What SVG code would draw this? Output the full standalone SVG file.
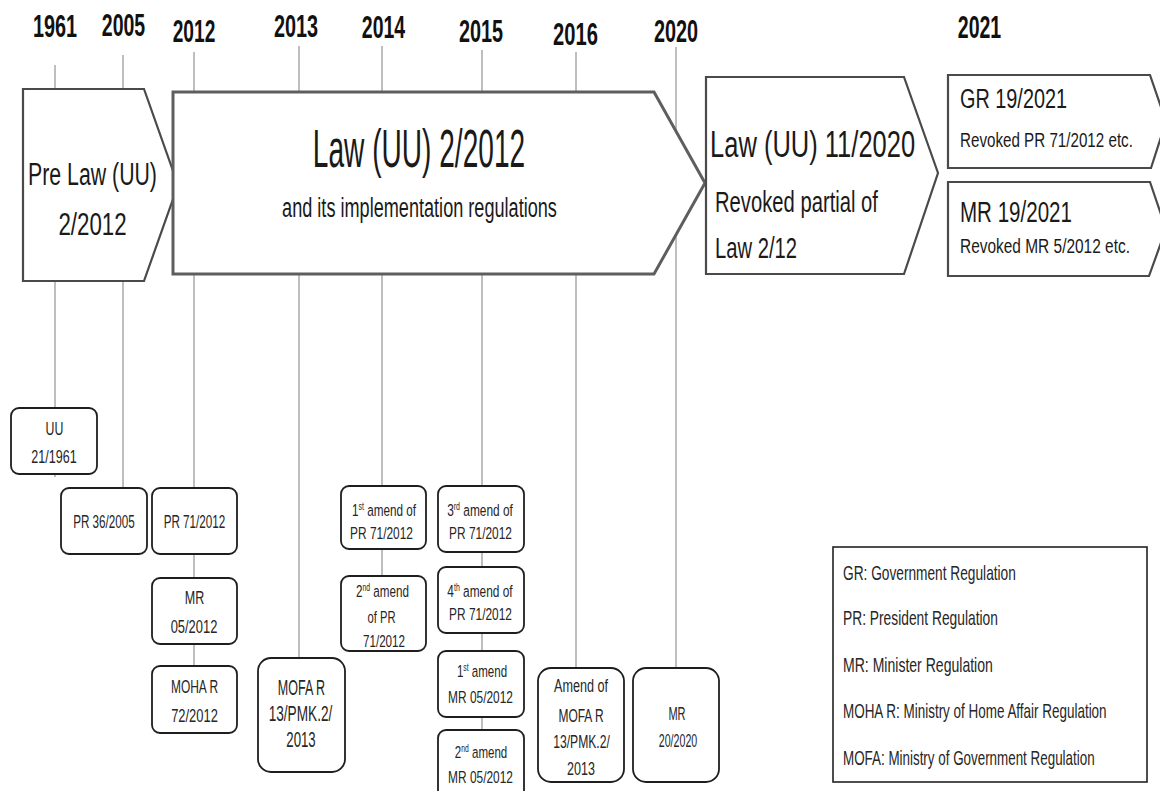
<svg xmlns="http://www.w3.org/2000/svg" width="1160" height="791" viewBox="0 0 1160 791">
  <style>
    text { font-family: "Liberation Sans", Arial, sans-serif; fill: #1a1a1a; }
    .year { font-weight: bold; font-size: 32px; text-anchor: middle; fill: #111; }
    .tick { stroke: #a8a8a8; stroke-width: 1.5; fill: none; }
    .box { fill: #fff; stroke: #1e1e1e; stroke-width: 1.8; }
    .big { fill: #fff; stroke: #4a4a4a; stroke-width: 2.2; }
    .main { fill: #fff; stroke: #5e5e5e; stroke-width: 3; }
    .mid { text-anchor: middle; }
    .lbl { font-size: 19px; text-anchor: middle; fill: #262626; }
    .sm { font-size: 17px; text-anchor: middle; fill: #262626; }
    .md { font-size: 22px; text-anchor: middle; fill: #262626; }
    .leg { font-size: 20px; fill: #262626; }
  </style>

  <rect width="1160" height="791" fill="#fff"/>

  <!-- year headings (narrowed with a horizontal scale) -->
  <g id="years">
    <text class="year" transform="translate(55,37) scale(0.62,1)">1961</text>
    <text class="year" transform="translate(123.5,36) scale(0.61,1)">2005</text>
    <text class="year" transform="translate(194,42) scale(0.6,1)">2012</text>
    <text class="year" transform="translate(296,37) scale(0.62,1)">2013</text>
    <text class="year" transform="translate(383.5,38) scale(0.61,1)">2014</text>
    <text class="year" transform="translate(481,42) scale(0.62,1)">2015</text>
    <text class="year" transform="translate(575.5,45) scale(0.63,1)">2016</text>
    <text class="year" transform="translate(676,42) scale(0.62,1)">2020</text>
    <text class="year" transform="translate(979.5,38) scale(0.61,1)">2021</text>
  </g>

  <!-- vertical year lines, drawn behind the white-filled shapes -->
  <g id="connectors">
    <line class="tick" x1="55" y1="65" x2="55" y2="477"/>
    <line class="tick" x1="123" y1="55" x2="123" y2="488"/>
    <line class="tick" x1="194" y1="52" x2="194" y2="666"/>
    <line class="tick" x1="299" y1="46" x2="299" y2="658"/>
    <line class="tick" x1="382" y1="46" x2="382" y2="576"/>
    <line class="tick" x1="482" y1="50" x2="482" y2="730"/>
    <line class="tick" x1="576" y1="52" x2="576" y2="668"/>
    <line class="tick" x1="676" y1="47" x2="676" y2="668"/>
  </g>

  <!-- period chevrons -->
  <g id="pre-law">
    <polygon class="big" points="23,89 144,89 178,185 144,281 23,281"/>
    <text class="mid" font-size="31" transform="translate(92.5,185) scale(0.687,1)">Pre Law (UU)</text>
    <text class="mid" font-size="31" transform="translate(92.5,235) scale(0.72,1)">2/2012</text>
  </g>

  <g id="law-2-2012">
    <polygon class="main" points="173,92 654,92 705,183 654,274 173,274"/>
    <text class="mid" font-size="53" transform="translate(419,167) scale(0.53,1)">Law (UU) 2/2012</text>
    <text class="mid" font-size="27" transform="translate(419.5,217) scale(0.671,1)">and its implementation regulations</text>
  </g>

  <g id="law-11-2020">
    <polygon class="big" points="706,77 904,77 938,173 904,274 706,274"/>
    <text font-size="37" transform="translate(710,157) scale(0.69,1)">Law (UU) 11/2020</text>
    <text font-size="30" transform="translate(715,212) scale(0.674,1)">Revoked partial of</text>
    <text font-size="29" transform="translate(715,258) scale(0.697,1)">Law 2/12</text>
  </g>

  <g id="gr-19-2021">
    <polygon class="big" points="948,75 1150,75 1166,121.5 1151,168 948,168" stroke="#2a2a2a"/>
    <text font-size="28" transform="translate(960,108) scale(0.709,1)">GR 19/2021</text>
    <text font-size="21" transform="translate(960,147) scale(0.723,1)">Revoked PR 71/2012 etc.</text>
  </g>

  <g id="mr-19-2021">
    <polygon class="big" points="948,182 1150,182 1166,229 1149,276 948,276" stroke="#2a2a2a"/>
    <text font-size="29" transform="translate(960,222) scale(0.709,1)">MR 19/2021</text>
    <text font-size="21" transform="translate(960,253) scale(0.736,1)">Revoked MR 5/2012 etc.</text>
  </g>

  <!-- regulation boxes -->
  <g id="uu-21-1961">
    <rect class="box" x="11" y="408" width="86" height="66" rx="8"/>
    <text class="lbl" transform="translate(54.5,435) scale(0.65,1)">UU</text>
    <text class="lbl" transform="translate(54,463) scale(0.66,1)">21/1961</text>
  </g>

  <g id="pr-36-2005">
    <rect class="box" x="61" y="488" width="86" height="66" rx="8"/>
    <text class="lbl" font-size="20" transform="translate(104,528) scale(0.615,1)">PR 36/2005</text>
  </g>

  <g id="pr-71-2012">
    <rect class="box" x="152" y="488" width="85" height="66" rx="8"/>
    <text class="lbl" font-size="20" transform="translate(194.5,528) scale(0.615,1)">PR 71/2012</text>
  </g>

  <g id="mr-05-2012">
    <rect class="box" x="152" y="578" width="85" height="66" rx="8"/>
    <text class="lbl" transform="translate(194.5,604) scale(0.66,1)">MR</text>
    <text class="lbl" transform="translate(194,633) scale(0.68,1)">05/2012</text>
  </g>

  <g id="moha-r-72-2012">
    <rect class="box" x="152" y="666" width="85" height="67" rx="8"/>
    <text class="lbl" transform="translate(194.5,693) scale(0.63,1)">MOHA R</text>
    <text class="lbl" transform="translate(194.5,722) scale(0.68,1)">72/2012</text>
  </g>

  <g id="mofa-r-2013">
    <rect class="box" x="258" y="658" width="87" height="114" rx="13"/>
    <text class="md" transform="translate(301.5,695) scale(0.57,1)">MOFA R</text>
    <text class="md" transform="translate(300.5,721) scale(0.62,1)">13/PMK.2/</text>
    <text class="md" transform="translate(301,747) scale(0.6,1)">2013</text>
  </g>

  <g id="amend1-pr-71">
    <rect class="box" x="341" y="486" width="85" height="63" rx="8"/>
    <text class="sm" transform="translate(384,516) scale(0.69,1)">1<tspan font-size="10" dy="-6">st</tspan><tspan dy="6"> amend of</tspan></text>
    <text class="sm" transform="translate(381.5,539) scale(0.7,1)">PR 71/2012</text>
  </g>

  <g id="amend2-pr-71">
    <rect class="box" x="341" y="576" width="85" height="75" rx="8"/>
    <text class="sm" transform="translate(382.5,597) scale(0.686,1)">2<tspan font-size="10" dy="-6">nd</tspan><tspan dy="6"> amend</tspan></text>
    <text class="sm" transform="translate(381.5,623) scale(0.66,1)">of PR</text>
    <text class="sm" transform="translate(384,647) scale(0.684,1)">71/2012</text>
  </g>

  <g id="amend3-pr-71">
    <rect class="box" x="438" y="486" width="86" height="66" rx="8"/>
    <text class="sm" transform="translate(480,516) scale(0.7,1)">3<tspan font-size="10" dy="-6">rd</tspan><tspan dy="6"> amend of</tspan></text>
    <text class="sm" transform="translate(480.5,539) scale(0.7,1)">PR 71/2012</text>
  </g>

  <g id="amend4-pr-71">
    <rect class="box" x="438" y="567" width="86" height="66" rx="8"/>
    <text class="sm" transform="translate(480,597) scale(0.7,1)">4<tspan font-size="10" dy="-6">th</tspan><tspan dy="6"> amend of</tspan></text>
    <text class="sm" transform="translate(480.5,620) scale(0.7,1)">PR 71/2012</text>
  </g>

  <g id="amend1-mr-05">
    <rect class="box" x="438" y="651" width="86" height="66" rx="8"/>
    <text class="sm" transform="translate(482,677) scale(0.68,1)">1<tspan font-size="10" dy="-6">st</tspan><tspan dy="6"> amend</tspan></text>
    <text class="sm" transform="translate(480.5,703) scale(0.7,1)">MR 05/2012</text>
  </g>

  <g id="amend2-mr-05">
    <rect class="box" x="438" y="730" width="86" height="72" rx="8"/>
    <text class="sm" transform="translate(481,758) scale(0.68,1)">2<tspan font-size="10" dy="-6">nd</tspan><tspan dy="6"> amend</tspan></text>
    <text class="sm" transform="translate(480.5,783) scale(0.7,1)">MR 05/2012</text>
  </g>

  <g id="amend-mofa-r">
    <rect class="box" x="538" y="668" width="86" height="114" rx="13"/>
    <text class="lbl" transform="translate(581,692) scale(0.664,1)">Amend of</text>
    <text class="lbl" transform="translate(581,722) scale(0.63,1)">MOFA R</text>
    <text class="lbl" transform="translate(581.5,748) scale(0.64,1)">13/PMK.2/</text>
    <text class="lbl" transform="translate(581,775) scale(0.66,1)">2013</text>
  </g>

  <g id="mr-20-2020">
    <rect class="box" x="633" y="668" width="86" height="114" rx="13"/>
    <text class="lbl" font-size="21" transform="translate(677,720) scale(0.58,1)">MR</text>
    <text class="lbl" font-size="21" transform="translate(678,747) scale(0.56,1)">20/2020</text>
  </g>

  <!-- abbreviation key -->
  <g id="legend">
    <rect x="833" y="547" width="314" height="235" fill="#fff" stroke="#222" stroke-width="1.6"/>
    <text class="leg" transform="translate(843,580) scale(0.686,1)">GR: Government Regulation</text>
    <text class="leg" transform="translate(843,625) scale(0.69,1)">PR: President Regulation</text>
    <text class="leg" transform="translate(843,672) scale(0.703,1)">MR: Minister Regulation</text>
    <text class="leg" transform="translate(843,718) scale(0.673,1)">MOHA R: Ministry of Home Affair Regulation</text>
    <text class="leg" transform="translate(843,765) scale(0.67,1)">MOFA: Ministry of Government Regulation</text>
  </g>
</svg>
